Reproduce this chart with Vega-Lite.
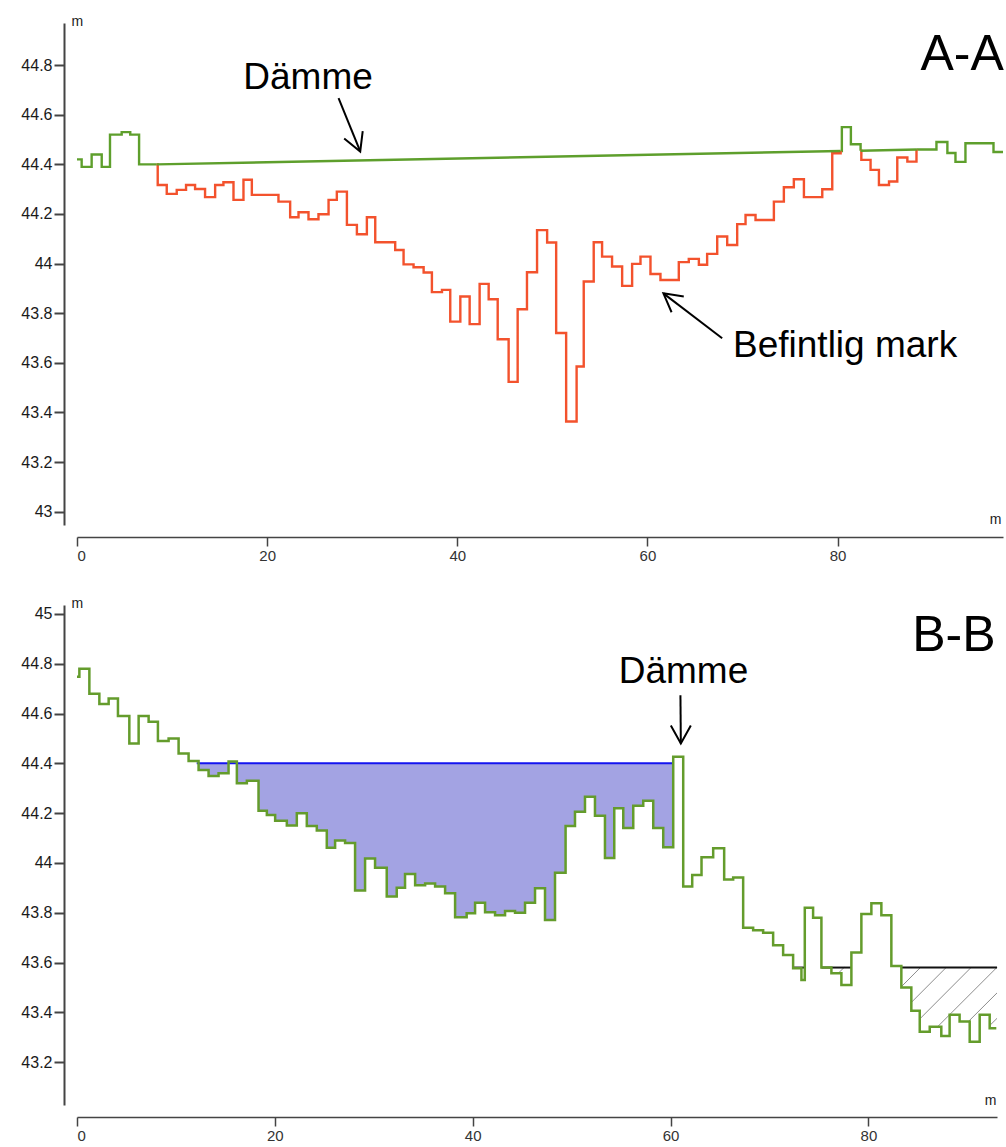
{
  "$schema": "https://vega.github.io/schema/vega-lite/v6.json",
  "background": "white",
  "padding": {"left": 20, "top": 14, "right": 0, "bottom": 0},
  "bounds": "flush",
  "spacing": 80,
  "config": {
    "view": {"stroke": null},
    "font": "Liberation Sans",
    "axis": {"grid": false, "domainColor": "#444", "tickColor": "#444", "labelColor": "#1a1a1a", "labelFont": "Liberation Sans", "titleFont": "Liberation Sans", "titleFontWeight": "normal", "titleFontSize": 14, "titleColor": "#222"},
    "axisY": {"domainWidth": 2, "tickWidth": 2, "tickSize": 10, "labelPadding": 2, "labelFontSize": 16, "offset": 13, "titleAngle": 0, "titleAlign": "left", "titleBaseline": "alphabetic", "titleX": 7, "titleY": 2},
    "axisX": {"domainWidth": 1.5, "tickWidth": 1.5, "tickSize": 9, "labelPadding": 2, "labelFontSize": 15, "offset": 12, "titleAlign": "right", "titleBaseline": "alphabetic", "labelColor": "#333"}
  },
  "datasets": {
    "topLines": [
      {"s":"g1","k":"mark","x":0,"y":44.42},{"s":"g1","k":"mark","x":0.49,"y":44.39},{"s":"g1","k":"mark","x":1.54,"y":44.44},{"s":"g1","k":"mark","x":2.6,"y":44.39},{"s":"g1","k":"mark","x":3.47,"y":44.52},{"s":"g1","k":"mark","x":4.7,"y":44.53},{"s":"g1","k":"mark","x":5.6,"y":44.52},{"s":"g1","k":"mark","x":6.53,"y":44.40},{"s":"g1","k":"mark","x":8.4,"y":44.40},
      {"s":"g2","k":"mark","x":80.32,"y":44.454},{"s":"g2","k":"mark","x":80.45,"y":44.55},{"s":"g2","k":"mark","x":81.4,"y":44.481},{"s":"g2","k":"mark","x":82.42,"y":44.455},
      {"s":"g3","k":"mark","x":88.35,"y":44.46},{"s":"g3","k":"mark","x":90.4,"y":44.49},{"s":"g3","k":"mark","x":91.55,"y":44.446},{"s":"g3","k":"mark","x":92.4,"y":44.41},{"s":"g3","k":"mark","x":93.45,"y":44.485},{"s":"g3","k":"mark","x":96.4,"y":44.45},{"s":"g3","k":"mark","x":97.4,"y":44.45},
      {"s":"o1","k":"bef","x":8.40,"y":44.40},{"s":"o1","k":"bef","x":8.49,"y":44.317},{"s":"o1","k":"bef","x":9.44,"y":44.281},{"s":"o1","k":"bef","x":10.49,"y":44.297},{"s":"o1","k":"bef","x":11.47,"y":44.317},{"s":"o1","k":"bef","x":12.42,"y":44.301},{"s":"o1","k":"bef","x":13.47,"y":44.268},{"s":"o1","k":"bef","x":14.53,"y":44.317},{"s":"o1","k":"bef","x":15.40,"y":44.328},{"s":"o1","k":"bef","x":16.46,"y":44.257},{"s":"o1","k":"bef","x":17.51,"y":44.338},{"s":"o1","k":"bef","x":18.39,"y":44.277},{"s":"o1","k":"bef","x":21.19,"y":44.250},{"s":"o1","k":"bef","x":22.42,"y":44.187},{"s":"o1","k":"bef","x":23.30,"y":44.207},{"s":"o1","k":"bef","x":24.35,"y":44.179},{"s":"o1","k":"bef","x":25.40,"y":44.199},{"s":"o1","k":"bef","x":26.46,"y":44.257},{"s":"o1","k":"bef","x":27.33,"y":44.290},{"s":"o1","k":"bef","x":28.39,"y":44.156},{"s":"o1","k":"bef","x":29.44,"y":44.118},{"s":"o1","k":"bef","x":30.49,"y":44.187},{"s":"o1","k":"bef","x":31.37,"y":44.086},{"s":"o1","k":"bef","x":33.47,"y":44.055},{"s":"o1","k":"bef","x":34.35,"y":43.997},{"s":"o1","k":"bef","x":35.40,"y":43.985},{"s":"o1","k":"bef","x":36.46,"y":43.964},{"s":"o1","k":"bef","x":37.33,"y":43.885},{"s":"o1","k":"bef","x":38.39,"y":43.894},{"s":"o1","k":"bef","x":39.26,"y":43.766},{"s":"o1","k":"bef","x":40.32,"y":43.867},{"s":"o1","k":"bef","x":41.30,"y":43.756},{"s":"o1","k":"bef","x":42.35,"y":43.918},{"s":"o1","k":"bef","x":43.30,"y":43.856},{"s":"o1","k":"bef","x":44.25,"y":43.695},{"s":"o1","k":"bef","x":45.40,"y":43.523},{"s":"o1","k":"bef","x":46.35,"y":43.816},{"s":"o1","k":"bef","x":47.33,"y":43.965},{"s":"o1","k":"bef","x":48.39,"y":44.135},{"s":"o1","k":"bef","x":49.45,"y":44.085},{"s":"o1","k":"bef","x":50.40,"y":43.72},{"s":"o1","k":"bef","x":51.45,"y":43.363},{"s":"o1","k":"bef","x":52.55,"y":43.585},{"s":"o1","k":"bef","x":53.30,"y":43.928},{"s":"o1","k":"bef","x":54.35,"y":44.086},{"s":"o1","k":"bef","x":55.23,"y":44.028},{"s":"o1","k":"bef","x":56.28,"y":43.988},{"s":"o1","k":"bef","x":57.34,"y":43.91},{"s":"o1","k":"bef","x":58.39,"y":43.999},{"s":"o1","k":"bef","x":59.27,"y":44.028},{"s":"o1","k":"bef","x":60.32,"y":43.958},{"s":"o1","k":"bef","x":61.37,"y":43.934},{"s":"o1","k":"bef","x":63.30,"y":44.006},{"s":"o1","k":"bef","x":64.35,"y":44.019},{"s":"o1","k":"bef","x":65.41,"y":43.995},{"s":"o1","k":"bef","x":66.28,"y":44.039},{"s":"o1","k":"bef","x":67.34,"y":44.109},{"s":"o1","k":"bef","x":68.39,"y":44.075},{"s":"o1","k":"bef","x":69.44,"y":44.159},{"s":"o1","k":"bef","x":70.32,"y":44.196},{"s":"o1","k":"bef","x":71.37,"y":44.176},{"s":"o1","k":"bef","x":73.30,"y":44.25},{"s":"o1","k":"bef","x":74.35,"y":44.308},{"s":"o1","k":"bef","x":75.40,"y":44.34},{"s":"o1","k":"bef","x":76.46,"y":44.268},{"s":"o1","k":"bef","x":78.39,"y":44.30},{"s":"o1","k":"bef","x":79.44,"y":44.445},{"s":"o1","k":"bef","x":80.32,"y":44.454},
      {"s":"o2","k":"bef","x":82.42,"y":44.455},{"s":"o2","k":"bef","x":82.5,"y":44.418},{"s":"o2","k":"bef","x":83.47,"y":44.378},{"s":"o2","k":"bef","x":84.35,"y":44.317},{"s":"o2","k":"bef","x":85.41,"y":44.331},{"s":"o2","k":"bef","x":86.28,"y":44.428},{"s":"o2","k":"bef","x":87.34,"y":44.411},{"s":"o2","k":"bef","x":88.3,"y":44.46}
    ],
    "topDam": [
      {"s":"d1","x":8.4,"y":44.40},{"s":"d1","x":80.32,"y":44.454},
      {"s":"d2","x":82.42,"y":44.455},{"s":"d2","x":88.35,"y":44.46}
    ],
    "topArrows": [
      {"x":27.51,"y":44.667,"x2":29.79,"y2":44.452},
      {"x":67.86,"y":43.699,"x2":61.68,"y2":43.88}
    ],
    "topHeads": [
      {"x":29.79,"y":44.452,"a":67.9},
      {"x":61.68,"y":43.88,"a":217.6}
    ],
    "topText": [
      {"x":24.3,"y":44.704,"t":"Dämme","z":37},
      {"x":93.1,"y":44.781,"t":"A-A","z":50},
      {"x":80.79,"y":43.624,"t":"Befintlig mark","z":37}
    ],
    "botGround": [
      {"x":0,"y":44.748},{"x":0.24,"y":44.78},{"x":1.25,"y":44.68},{"x":2.26,"y":44.638},{"x":3.2,"y":44.661},{"x":4.14,"y":44.59},{"x":5.29,"y":44.48},{"x":6.23,"y":44.59},{"x":7.24,"y":44.567},{"x":8.18,"y":44.49},{"x":9.26,"y":44.50},{"x":10.27,"y":44.44},{"x":11.28,"y":44.41},{"x":12.29,"y":44.373},{"x":13.30,"y":44.349},{"x":14.31,"y":44.36},{"x":15.32,"y":44.407},{"x":16.16,"y":44.32},{"x":17.17,"y":44.33},{"x":18.35,"y":44.21},{"x":19.19,"y":44.193},{"x":20.03,"y":44.17},{"x":21.21,"y":44.15},{"x":22.22,"y":44.20},{"x":23.23,"y":44.148},{"x":24.24,"y":44.13},{"x":25.25,"y":44.061},{"x":26.09,"y":44.09},{"x":27.10,"y":44.08},{"x":28.11,"y":43.889},{"x":29.12,"y":44.018},{"x":30.13,"y":43.981},{"x":31.31,"y":43.865},{"x":32.32,"y":43.90},{"x":33.16,"y":43.956},{"x":34.18,"y":43.911},{"x":35.19,"y":43.918},{"x":36.20,"y":43.905},{"x":37.21,"y":43.878},{"x":38.22,"y":43.782},{"x":39.39,"y":43.798},{"x":40.24,"y":43.84},{"x":41.25,"y":43.802},{"x":42.26,"y":43.79},{"x":43.27,"y":43.807},{"x":44.28,"y":43.80},{"x":45.29,"y":43.84},{"x":46.30,"y":43.898},{"x":47.31,"y":43.771},{"x":48.32,"y":43.961},{"x":49.39,"y":44.148},{"x":50.34,"y":44.206},{"x":51.35,"y":44.266},{"x":52.36,"y":44.19},{"x":53.37,"y":44.02},{"x":54.31,"y":44.22},{"x":55.22,"y":44.14},{"x":56.23,"y":44.23},{"x":57.24,"y":44.25},{"x":58.25,"y":44.14},{"x":59.26,"y":44.063},{"x":60.27,"y":44.427},{"x":61.28,"y":43.905},{"x":62.19,"y":43.952},{"x":63.13,"y":44.023},{"x":64.31,"y":44.059},{"x":65.42,"y":43.934},{"x":66.33,"y":43.942},{"x":67.34,"y":43.74},{"x":68.35,"y":43.73},{"x":69.36,"y":43.72},{"x":70.37,"y":43.67},{"x":71.38,"y":43.63},{"x":72.39,"y":43.577},{"x":73.23,"y":43.53},{"x":73.57,"y":43.82},{"x":74.41,"y":43.78},{"x":75.25,"y":43.58},{"x":76.26,"y":43.557},{"x":77.27,"y":43.51},{"x":78.28,"y":43.64},{"x":79.29,"y":43.795},{"x":80.30,"y":43.838},{"x":81.31,"y":43.79},{"x":82.32,"y":43.586},{"x":83.33,"y":43.50},{"x":84.34,"y":43.407},{"x":85.19,"y":43.322},{"x":86.20,"y":43.342},{"x":87.37,"y":43.305},{"x":88.21,"y":43.39},{"x":89.22,"y":43.363},{"x":90.24,"y":43.282},{"x":91.25,"y":43.39},{"x":92.26,"y":43.336},{"x":92.93,"y":43.336}
    ],
    "botWater": [{"x":12.1,"x2":60.27,"y":44.4}],
    "botLevel": [{"x":72.3,"x2":73.5,"y":43.58},{"x":75.25,"x2":78.28,"y":43.58},{"x":83.3,"x2":93.0,"y":43.58}],
    "botHatch": [
      {"x":77.56,"y":43.581,"x2":76.98,"y2":43.558},
      {"x":85.28,"y":43.581,"x2":83.33,"y2":43.503},
      {"x":87.88,"y":43.581,"x2":84.34,"y2":43.440},
      {"x":90.40,"y":43.581,"x2":85.18,"y2":43.373},
      {"x":93.0,"y":43.581,"x2":87.01,"y2":43.343},
      {"x":93.0,"y":43.478,"x2":90.10,"y2":43.363},
      {"x":93.0,"y":43.376,"x2":92.26,"y2":43.347}
    ],
    "botArrows": [{"x":61.0,"y":44.674,"x2":61.04,"y2":44.48}],
    "botHeads": [{"x":61.04,"y":44.48,"a":90}],
    "botText": [
      {"x":88.64,"y":44.851,"t":"B-B","z":50},
      {"x":61.31,"y":44.722,"t":"Dämme","z":37}
    ]
  },
  "vconcat": [
    {
      "width": 926,
      "height": 502,
      "encoding": {
        "x": {"field": "x", "type": "quantitative", "scale": {"domain": [0, 97.4], "nice": false, "zero": false},
              "axis": {"title": "m", "values": [0, 20, 40, 60, 80], "format": "d", "titleX": 924, "titleY": -14}},
        "y": {"field": "y", "type": "quantitative", "scale": {"domain": [42.946, 44.97], "nice": false, "zero": false},
              "axis": {"title": "m", "values": [43, 43.2, 43.4, 43.6, 43.8, 44, 44.2, 44.4, 44.6, 44.8], "format": "~g"}}
      },
      "layer": [
        {
          "data": {"name": "topLines"},
          "mark": {"type": "line", "interpolate": "step-after", "strokeWidth": 2.4},
          "encoding": {
            "color": {"field": "k", "type": "nominal", "scale": {"domain": ["mark", "bef"], "range": ["#5e9f2c", "#f3522d"]}, "legend": null},
            "detail": {"field": "s", "type": "nominal"}
          }
        },
        {
          "data": {"name": "topDam"},
          "mark": {"type": "line", "strokeWidth": 2.4, "color": "#5e9f2c"},
          "encoding": {"detail": {"field": "s", "type": "nominal"}}
        },
        {
          "data": {"name": "topArrows"},
          "mark": {"type": "rule", "color": "black", "strokeWidth": 2},
          "encoding": {"x2": {"field": "x2"}, "y2": {"field": "y2"}}
        },
        {
          "data": {"name": "topHeads"},
          "mark": {"type": "point", "shape": "M-0.9,-0.5L0,0L-0.9,0.5", "filled": false, "stroke": "black", "strokeWidth": 2, "size": 1600, "opacity": 1},
          "encoding": {"angle": {"field": "a", "type": "quantitative", "scale": null}}
        },
        {
          "data": {"name": "topText"},
          "mark": {"type": "text", "font": "Liberation Sans", "baseline": "alphabetic", "align": "center", "color": "black"},
          "encoding": {"text": {"field": "t"}, "size": {"field": "z", "type": "quantitative", "scale": null}}
        }
      ]
    },
    {
      "width": 920,
      "height": 500,
      "encoding": {
        "x": {"field": "x", "type": "quantitative", "scale": {"domain": [0, 93], "nice": false, "zero": false},
              "axis": {"title": "m", "values": [0, 20, 40, 60, 80], "format": "d", "titleX": 919, "titleY": -13}},
        "y": {"field": "y", "type": "quantitative", "scale": {"domain": [43.028, 45.036], "nice": false, "zero": false},
              "axis": {"title": "m", "values": [43.2, 43.4, 43.6, 43.8, 44, 44.2, 44.4, 44.6, 44.8, 45], "format": "~g"}}
      },
      "layer": [
        {
          "data": {"name": "botGround"},
          "transform": [{"filter": "datum.x >= 12.29 && datum.x <= 60.27"}],
          "mark": {"type": "area", "interpolate": "step-after", "color": "#a3a3e3", "opacity": 1},
          "encoding": {"y2": {"datum": 44.4}}
        },
        {
          "data": {"name": "botHatch"},
          "mark": {"type": "rule", "color": "#8c8c8c", "strokeWidth": 1},
          "encoding": {"x2": {"field": "x2"}, "y2": {"field": "y2"}}
        },
        {
          "data": {"name": "botLevel"},
          "mark": {"type": "rule", "color": "#111111", "strokeWidth": 2},
          "encoding": {"x2": {"field": "x2"}}
        },
        {
          "data": {"name": "botWater"},
          "mark": {"type": "rule", "color": "#1414f0", "strokeWidth": 2},
          "encoding": {"x2": {"field": "x2"}}
        },
        {
          "data": {"name": "botGround"},
          "mark": {"type": "line", "interpolate": "step-after", "strokeWidth": 2.5, "color": "#649c2c"},
          "encoding": {}
        },
        {
          "data": {"name": "botArrows"},
          "mark": {"type": "rule", "color": "black", "strokeWidth": 2},
          "encoding": {"x2": {"field": "x2"}, "y2": {"field": "y2"}}
        },
        {
          "data": {"name": "botHeads"},
          "mark": {"type": "point", "shape": "M-0.9,-0.5L0,0L-0.9,0.5", "filled": false, "stroke": "black", "strokeWidth": 2, "size": 1600, "opacity": 1},
          "encoding": {"angle": {"field": "a", "type": "quantitative", "scale": null}}
        },
        {
          "data": {"name": "botText"},
          "mark": {"type": "text", "font": "Liberation Sans", "baseline": "alphabetic", "align": "center", "color": "black"},
          "encoding": {"text": {"field": "t"}, "size": {"field": "z", "type": "quantitative", "scale": null}}
        }
      ]
    }
  ]
}
